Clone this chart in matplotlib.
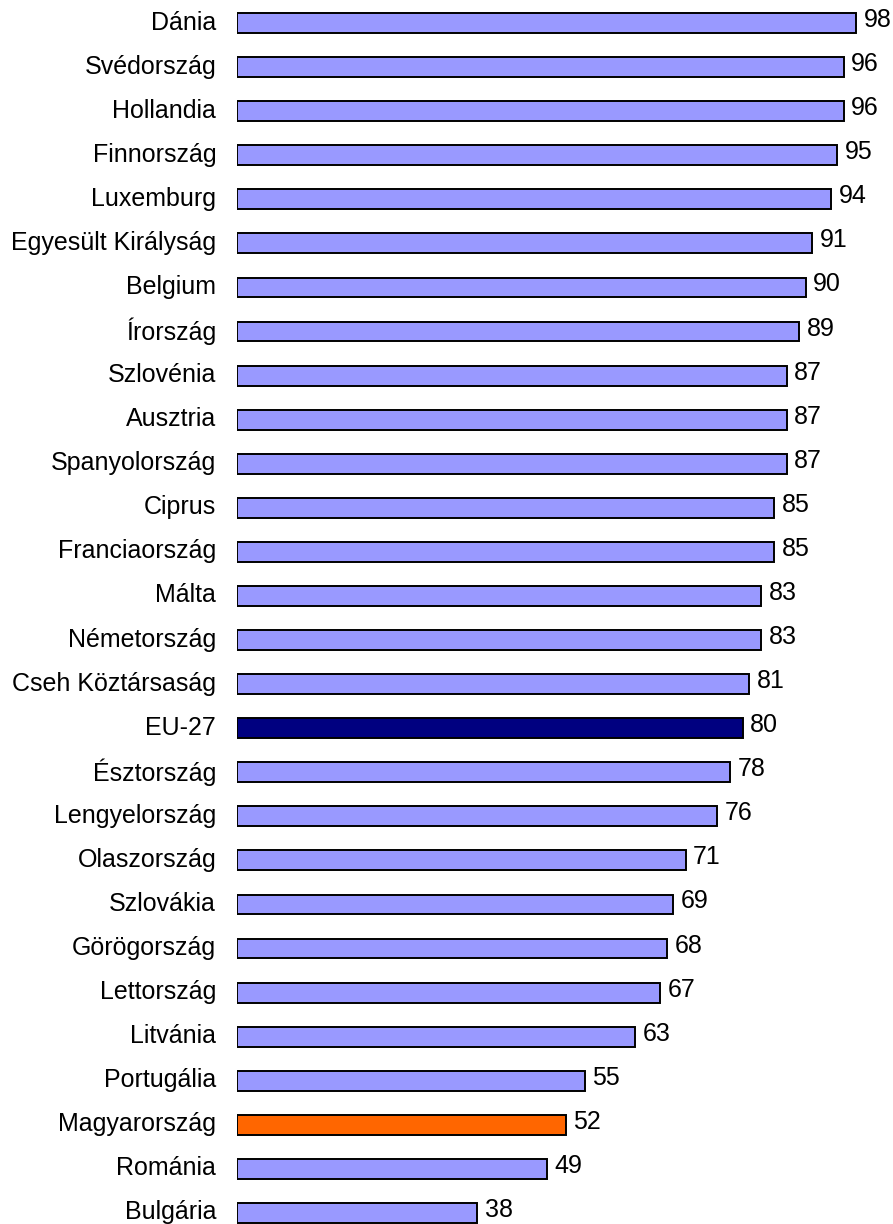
import matplotlib
matplotlib.use('Agg')
import matplotlib.pyplot as plt
from matplotlib.transforms import ScaledTranslation

# országok és értékek (felülről lefelé)
orszagok = ['Dánia', 'Svédország', 'Hollandia', 'Finnország', 'Luxemburg',
            'Egyesült Királyság', 'Belgium', 'Írország', 'Szlovénia', 'Ausztria',
            'Spanyolország', 'Ciprus', 'Franciaország', 'Málta', 'Németország',
            'Cseh Köztársaság', 'EU-27', 'Észtország', 'Lengyelország',
            'Olaszország', 'Szlovákia', 'Görögország', 'Lettország', 'Litvánia',
            'Portugália', 'Magyarország', 'Románia', 'Bulgária']
ertekek = [98, 96, 96, 95, 94, 91, 90, 89, 87, 87, 87, 85, 85, 83, 83, 81,
           80, 78, 76, 71, 69, 68, 67, 63, 55, 52, 49, 38]

szinek = []
for o in orszagok:
    if o == 'EU-27':
        szinek.append('#000080')
    elif o == 'Magyarország':
        szinek.append('#FF6600')
    else:
        szinek.append('#9999FF')

plt.rcParams['font.family'] = ['Liberation Sans', 'DejaVu Sans']

fig = plt.figure(figsize=(8.93, 12.24), dpi=100)
ax = fig.add_axes([237 / 893, 0, 631.9 / 893, 1])

y = list(range(len(orszagok)))
ax.barh(y, ertekek, height=0.45, color=szinek, edgecolor='black', linewidth=1.4)

# kicsit feljebb toljuk a szövegeket
fel = ScaledTranslation(0, 3 / 100, fig.dpi_scale_trans)
for i, v in enumerate(ertekek):
    ax.text(v + 1.2, i, str(v), va='center', ha='left', fontsize=18,
            transform=ax.transData + fel)

ax.set_xlim(0, 100)
ax.set_ylim(27.25, -0.522)
ax.set_yticks(y)
ax.set_yticklabels(orszagok, fontsize=18)
ax.tick_params(axis='y', length=0, pad=15)
for lbl in ax.get_yticklabels():
    lbl.set_transform(lbl.get_transform() + fel)
ax.set_xticks([])
for s in ax.spines.values():
    s.set_visible(False)

fig.savefig('out.png', dpi=100)
